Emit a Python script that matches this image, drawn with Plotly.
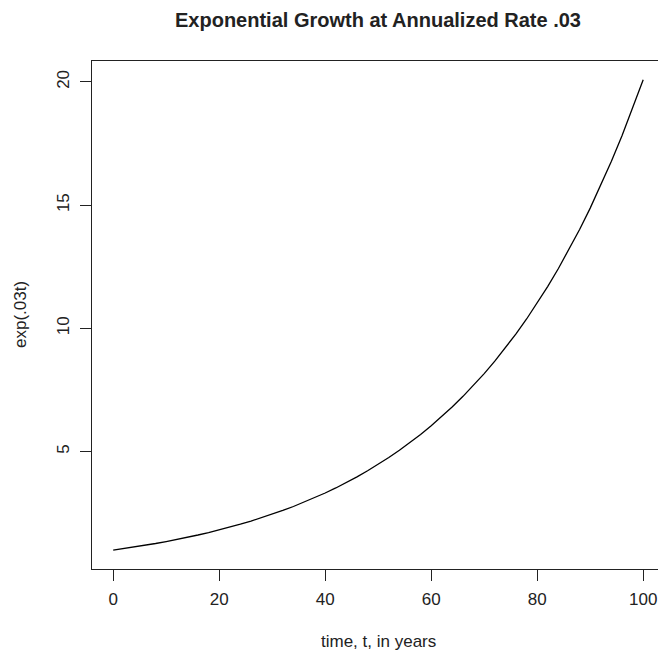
import plotly.graph_objects as go

# data (the exp(.03t) curve, read every 2 years)
t_years = list(range(0, 101, 2))
growth = [1.000, 1.062, 1.127, 1.197, 1.271, 1.350, 1.433, 1.522, 1.616, 1.716,
          1.822, 1.935, 2.054, 2.181, 2.316, 2.460, 2.612, 2.773, 2.945, 3.127,
          3.320, 3.525, 3.743, 3.975, 4.221, 4.482, 4.759, 5.053, 5.366, 5.697,
          6.050, 6.424, 6.821, 7.243, 7.691, 8.166, 8.671, 9.207, 9.777, 10.381,
          11.023, 11.705, 12.429, 13.197, 14.013, 14.880, 15.800, 16.777, 17.814,
          18.916, 20.086]
x_ticks = [0, 20, 40, 60, 80, 100]
y_ticks = [5, 10, 15, 20]

W, H = 658, 653
L, T, B = 92, 61, 84
px_per_unit = 5.3
x_range = [-4, -4 + (W - L) / px_per_unit]
y_range = [1 - 0.04 * 19.086, 20.086 + 0.04 * 19.086]

font = "Liberation Sans, Arial, sans-serif"
ink = "#222222"
fs = 17

fig = go.Figure()
fig.add_trace(go.Scatter(x=t_years, y=growth, mode="lines",
                         line=dict(color="black", width=1.3), hoverinfo="skip"))

fig.update_layout(
    width=W, height=H,
    margin=dict(l=L, r=0, t=T, b=B),
    paper_bgcolor="white", plot_bgcolor="white",
    showlegend=False,
    font=dict(family=font, size=fs, color=ink),
    title=dict(text="<b>Exponential Growth at Annualized Rate .03</b>",
               xref="container", yref="container",
               x=378 / W, xanchor="center", y=1 - 20 / H, yanchor="middle",
               font=dict(family=font, size=20, color=ink)),
    xaxis=dict(range=x_range, tickmode="array", tickvals=x_ticks,
               ticks="outside", ticklen=11, tickcolor=ink, tickwidth=1,
               showline=True, linecolor=ink, linewidth=1.2, mirror=True,
               showgrid=False, zeroline=False, ticklabelstandoff=3),
    yaxis=dict(range=y_range, tickmode="array", tickvals=y_ticks,
               ticks="outside", ticklen=11, tickcolor=ink, tickwidth=1,
               tickangle=-90,
               showline=True, linecolor=ink, linewidth=1.2, mirror=False,
               showgrid=False, zeroline=False, ticklabelstandoff=4),
    annotations=[
        dict(text="time, t, in years", xref="paper", yref="paper",
             x=(378 - L) / (W - L), y=(569 - 641) / (H - T - B),
             xanchor="center", yanchor="middle", showarrow=False,
             font=dict(family=font, size=fs, color=ink)),
        dict(text="exp(.03t)", xref="paper", yref="paper",
             x=(20 - L) / (W - L), y=0.5, textangle=-90,
             xanchor="center", yanchor="middle", showarrow=False,
             font=dict(family=font, size=fs, color=ink)),
    ],
)

fig.write_html("out.html")
